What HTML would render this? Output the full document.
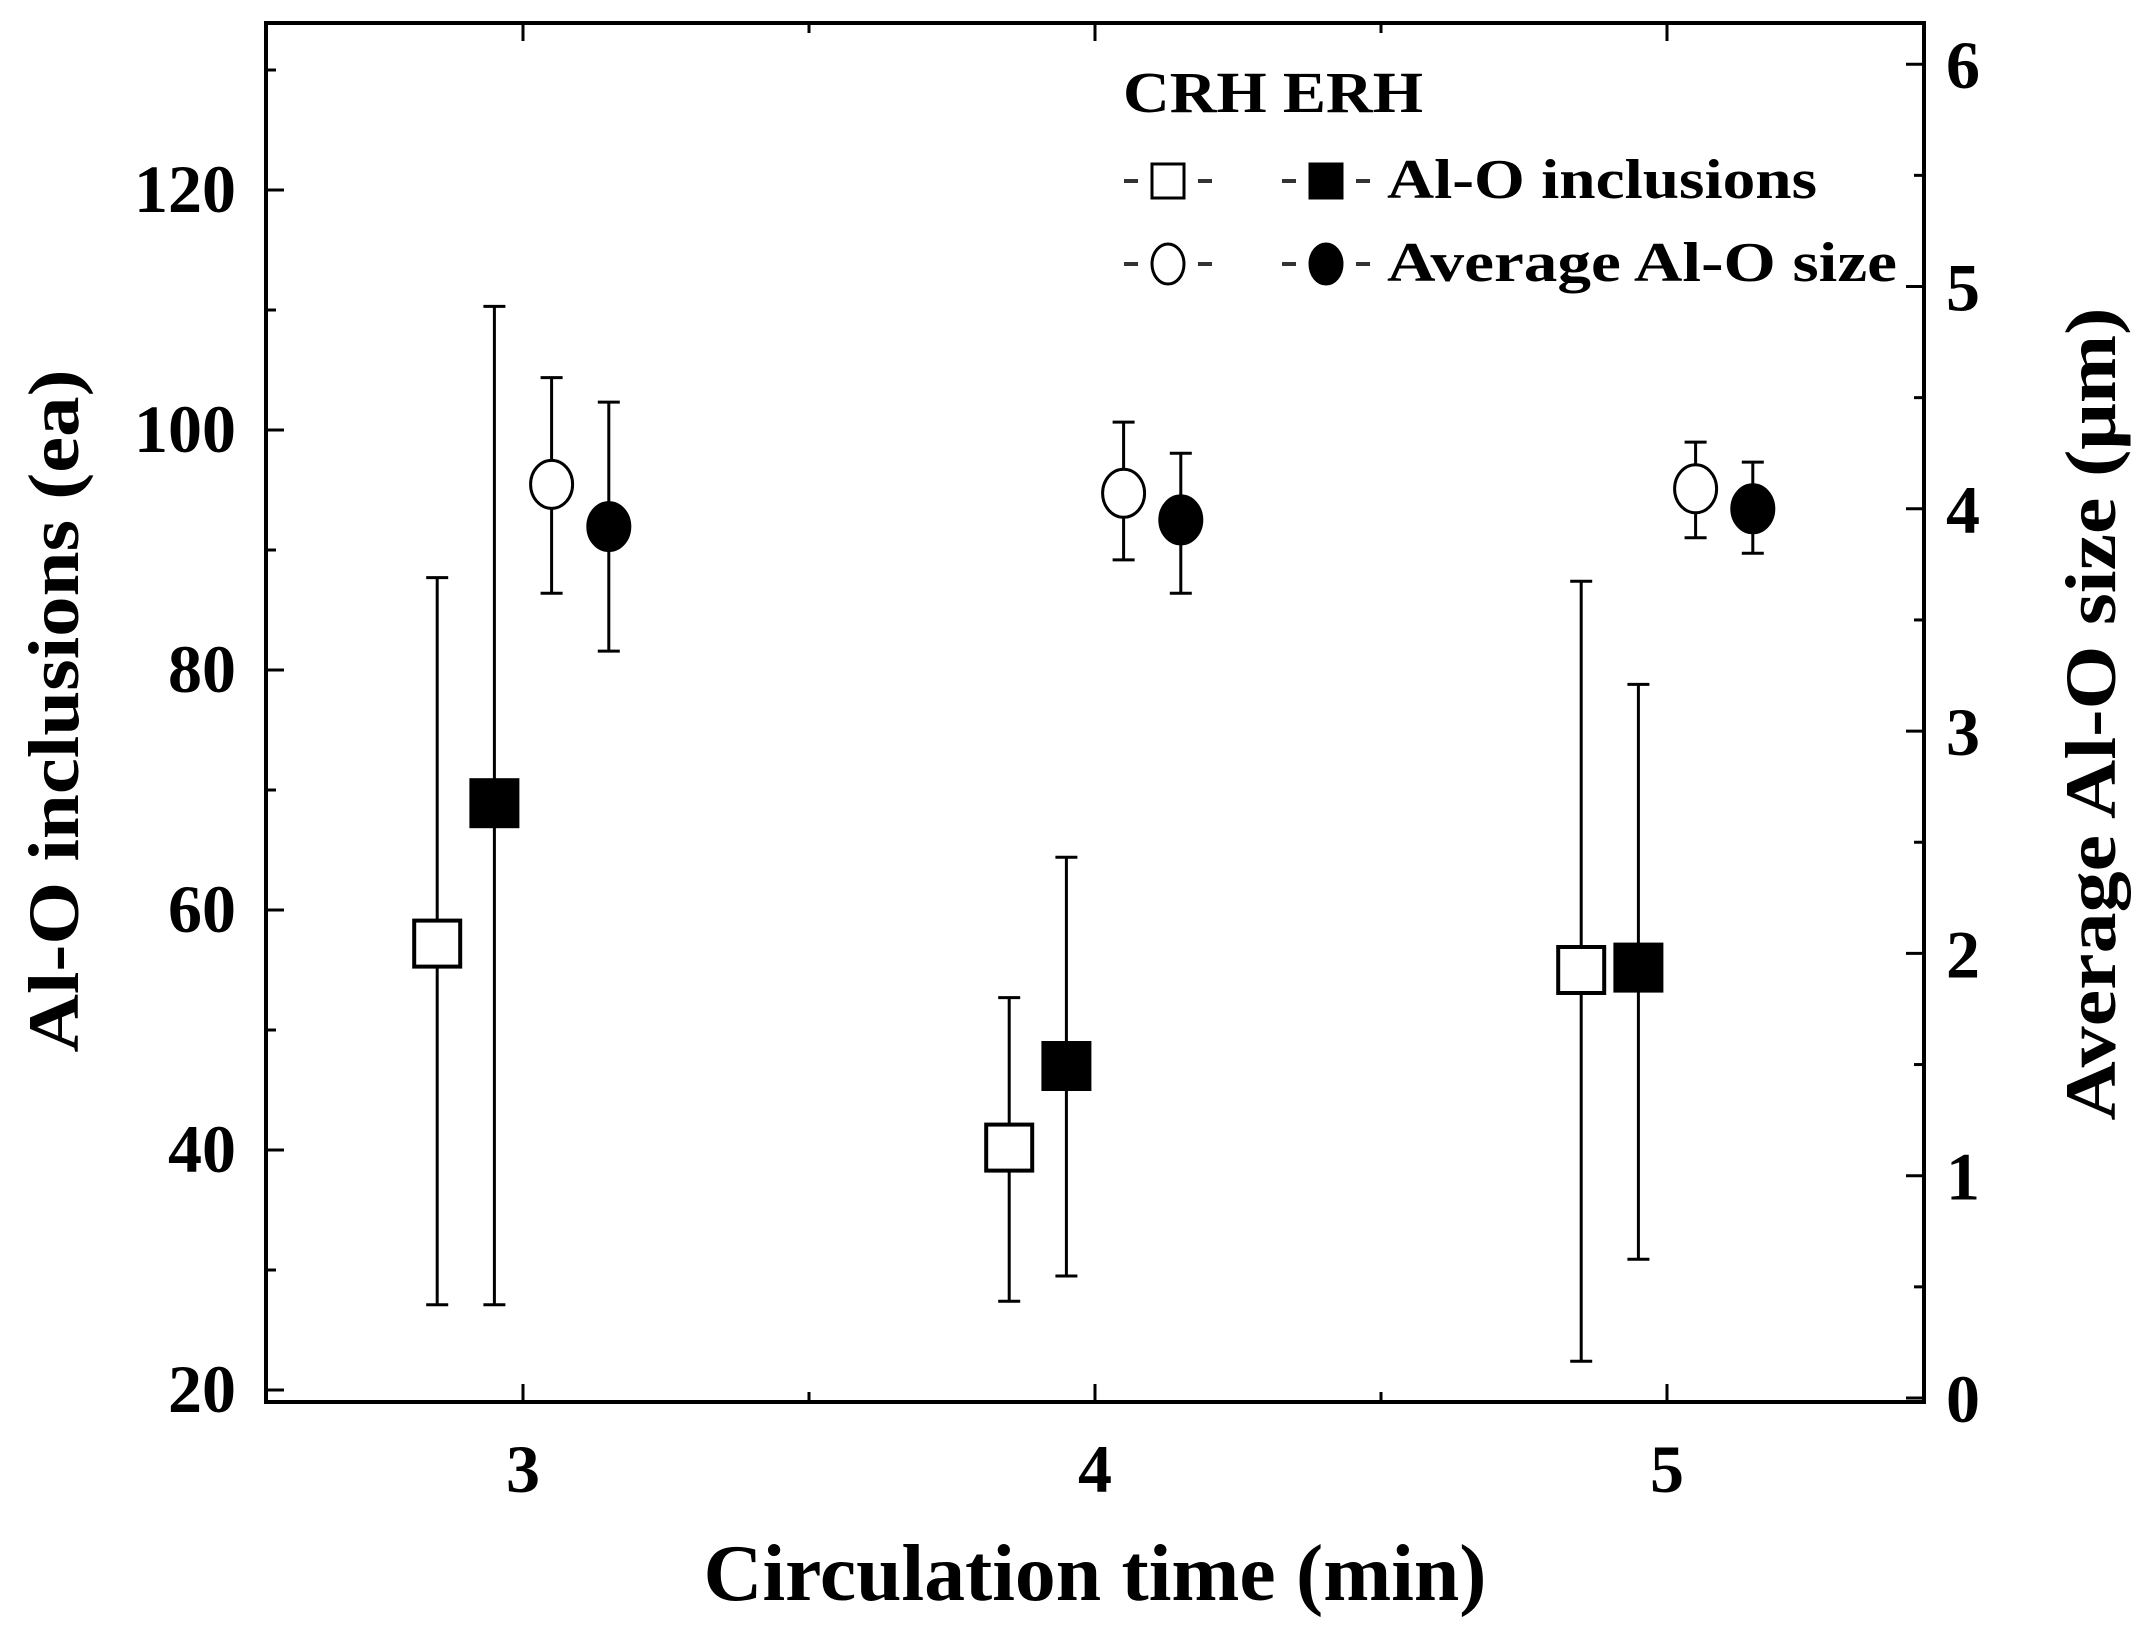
<!DOCTYPE html>
<html><head><meta charset="utf-8"><style>
html,body{margin:0;padding:0;background:#fff;}
svg{display:block;font-family:"Liberation Serif",serif;font-weight:bold;}
</style></head><body>
<svg id="chart" width="2143" height="1638" viewBox="0 0 2143 1638" xmlns="http://www.w3.org/2000/svg"></svg>
<script>
const categories = [3, 4, 5];
const crhCount = [57.2, 40.2, 55.0];
const crhCountHi = [87.7, 52.7, 87.4];
const crhCountLo = [27.1, 27.4, 22.4];
const erhCount = [68.9, 47.0, 55.2];
const erhCountHi = [110.3, 64.4, 78.8];
const erhCountLo = [27.1, 29.5, 30.9];
const crhSize = [4.11, 4.07, 4.09];
const crhSizeHi = [4.59, 4.39, 4.30];
const crhSizeLo = [3.62, 3.77, 3.87];
const erhSize = [3.92, 3.95, 4.00];
const erhSizeHi = [4.48, 4.25, 4.21];
const erhSizeLo = [3.36, 3.62, 3.80];
const leftTicks = [20, 40, 60, 80, 100, 120];
const rightTicks = [0, 1, 2, 3, 4, 5, 6];

const L=266, R=1924, T=23, B=1402;
const xS = v => 523 + (v-3)*572;
const yL = v => 1390 - (v-20)*12;
const yR = v => 1398 - v*222.3;
const svg = document.getElementById('chart');
const NS = 'http://www.w3.org/2000/svg';
function mk(tag, attrs, parent){const e=document.createElementNS(NS,tag);for(const k in attrs)e.setAttribute(k,attrs[k]);(parent||svg).appendChild(e);return e;}

const frame = mk('rect',{x:L,y:T,width:R-L,height:B-T,fill:'none',stroke:'#000','stroke-width':4});



for(let v=20; v<=130; v+=10){
  const major = v%20===0;
  const t = mk('line',{x1:L,x2:L+(major?18:10),y1:yL(v),y2:yL(v),stroke:'#000','stroke-width':3});
  
  
}
leftTicks.forEach(v=>{
  const t = mk('text',{x:236,y:yL(v)+22,'font-size':68,'text-anchor':'end'});
  t.textContent=v;
  
  
});
for(let i=0;i<=12;i++){
  const v=i/2, major=i%2===0;
  const t = mk('line',{x1:R,x2:R-(major?18:10),y1:yR(v),y2:yR(v),stroke:'#000','stroke-width':3});
  
  
}
rightTicks.forEach(v=>{
  const t = mk('text',{x:1946,y:yR(v)+24,'font-size':68,'text-anchor':'start'});
  t.textContent=v;
  
  
});
for(let v=2.5; v<=5.5; v+=0.5){
  const x=xS(v); if(x<=L||x>=R) continue;
  const major = Number.isInteger(v);
  const t1 = mk('line',{x1:x,x2:x,y1:B,y2:B-(major?18:10),stroke:'#000','stroke-width':3});
  
  
  const t2 = mk('line',{x1:x,x2:x,y1:T,y2:T+(major?18:10),stroke:'#000','stroke-width':3});
  
  
}
categories.forEach(v=>{
  const t = mk('text',{x:xS(v),y:1492,'font-size':68,'text-anchor':'middle'});
  t.textContent=v;
  
  
});

const xt = mk('text',{x:1095,y:1600,'font-size':80,'text-anchor':'middle',textLength:783,lengthAdjust:'spacingAndGlyphs'});
xt.textContent='Circulation time (min)';


const ylt = mk('text',{x:0,y:0,'font-size':72,'text-anchor':'middle',textLength:683,lengthAdjust:'spacingAndGlyphs',transform:'translate(78,711) rotate(-90)'});
ylt.textContent='Al-O inclusions (ea)';


const yrt = mk('text',{x:0,y:0,'font-size':72,'text-anchor':'middle',textLength:813,lengthAdjust:'spacingAndGlyphs',transform:'translate(2115,714) rotate(-90)'});
yrt.textContent='Average Al-O size (\u03bcm)';



function errbar(x,y1,y2,name){
  const g=mk('g',{stroke:'#000','stroke-width':3});
  
  
  mk('line',{x1:x,x2:x,y1:y1,y2:y2},g);
  mk('line',{x1:x-11,x2:x+11,y1:y1,y2:y1},g);
  mk('line',{x1:x-11,x2:x+11,y1:y2,y2:y2},g);
}
function square(x,y,filled,name){
  const s=mk('rect',{x:x-23,y:y-23,width:46,height:46,fill:filled?'#000':'#fff',stroke:'#000','stroke-width':4});
  
  
}
function circle(x,y,filled,name){
  const c=mk('ellipse',{cx:x,cy:y,rx:21,ry:24,fill:filled?'#000':'#fff',stroke:'#000','stroke-width':3});
  
  
}
categories.forEach((c,i)=>{
  let x=xS(c-0.15);
  errbar(x,yL(crhCountHi[i]),yL(crhCountLo[i]),'crh-count-errorbar');
  square(x,yL(crhCount[i]),false,'crh-count-point');
  x=xS(c-0.05);
  errbar(x,yL(erhCountHi[i]),yL(erhCountLo[i]),'erh-count-errorbar');
  square(x,yL(erhCount[i]),true,'erh-count-point');
  x=xS(c+0.05);
  errbar(x,yR(crhSizeHi[i]),yR(crhSizeLo[i]),'crh-size-errorbar');
  circle(x,yR(crhSize[i]),false,'crh-size-point');
  x=xS(c+0.15);
  errbar(x,yR(erhSizeHi[i]),yR(erhSizeLo[i]),'erh-size-errorbar');
  circle(x,yR(erhSize[i]),true,'erh-size-point');
});

const lg = mk('g',{});


const lh = mk('text',{x:1123,y:112,'font-size':58,textLength:300,lengthAdjust:'spacingAndGlyphs'},lg);
lh.textContent='CRH ERH';


function dashes(cx,y){
  mk('line',{x1:cx-44,x2:cx-30,y1:y,y2:y,stroke:'#333','stroke-width':4},lg);
  mk('line',{x1:cx+30,x2:cx+44,y1:y,y2:y,stroke:'#333','stroke-width':4},lg);
}
const r1=181, r2=264;
dashes(1168,r1); dashes(1326,r1); dashes(1168,r2); dashes(1326,r2);
const m1=mk('rect',{x:1152,y:r1-17,width:32,height:34,fill:'#fff',stroke:'#000','stroke-width':3},lg);


const m2=mk('rect',{x:1310,y:r1-17,width:32,height:34,fill:'#000',stroke:'#000','stroke-width':3},lg);


const m3=mk('ellipse',{cx:1168,cy:r2,rx:16,ry:20,fill:'#fff',stroke:'#000','stroke-width':3},lg);


const m4=mk('ellipse',{cx:1326,cy:r2,rx:16,ry:20,fill:'#000',stroke:'#000','stroke-width':3},lg);


const lt1=mk('text',{x:1387,y:r1+17,'font-size':56,textLength:430,lengthAdjust:'spacingAndGlyphs'},lg);
lt1.textContent='Al-O inclusions';


const lt2=mk('text',{x:1387,y:r2+17,'font-size':56,textLength:510,lengthAdjust:'spacingAndGlyphs'},lg);
lt2.textContent='Average Al-O size';


</script>
</body></html>
